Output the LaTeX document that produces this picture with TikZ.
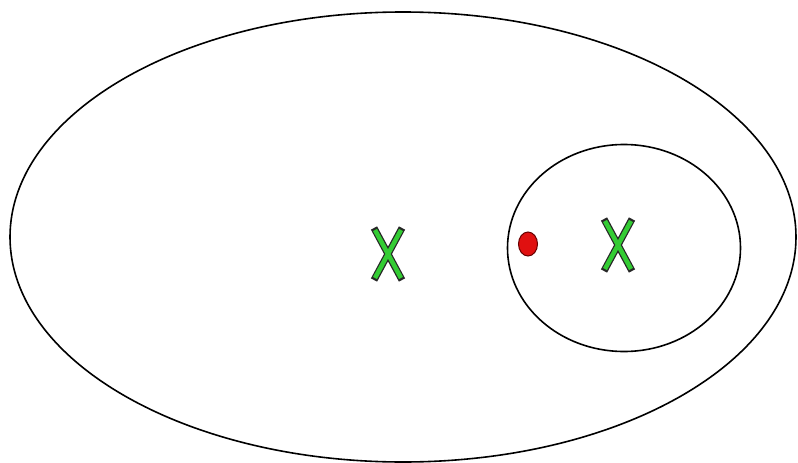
\documentclass[tikz,border=0pt]{standalone}
\usepackage{tikz}
\usetikzlibrary{shapes.geometric}
\definecolor{crossgreen}{HTML}{33CC33}
\definecolor{dotred}{HTML}{E01010}
\tikzset{
  orbit/.style={draw=black, ellipse, line width=1.6pt, inner sep=0pt},
  cross/.pic={
    \draw[line width=7pt, black!85] (-14,-26) -- (14,26) (14,-26) -- (-14,26);
    \draw[line width=4.5pt, crossgreen] (-13,-24) -- (13,24) (13,-24) -- (-13,24);
  }
}
\begin{document}
\begin{tikzpicture}[x=1pt, y=-1pt]
  \useasboundingbox[fill=white] (0,0) rectangle (798,463);
  \begin{scope}
    \clip (0,0) rectangle (798,463);
    \node[orbit, minimum width=786pt, minimum height=450pt] (outer) at (403,237) {};
    \node[orbit, minimum width=233pt, minimum height=207pt] (inner) at (624,248) {};
  \end{scope}
  \coordinate (heavy) at (388,254);
  \coordinate (light) at (618,245);
  \pic at (heavy) {cross};
  \pic at (light) {cross};
  \node[ellipse, fill=dotred, draw=black!60!red, line width=1pt, minimum width=19pt, minimum height=24pt, inner sep=0pt] (probe) at (528,244) {};
\end{tikzpicture}
\end{document}
